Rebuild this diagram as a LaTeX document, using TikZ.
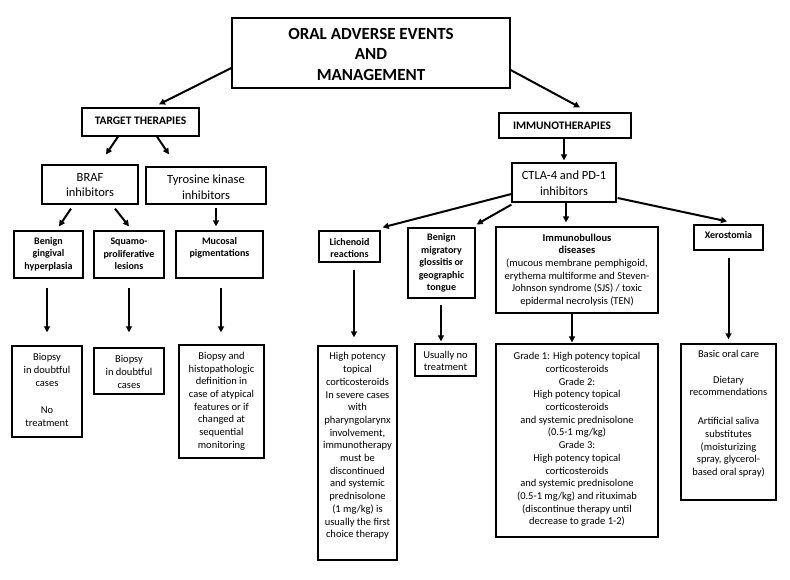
\documentclass[tikz,border=0pt]{standalone}
\usepackage{fontspec}
\setmainfont{Carlito}
\usetikzlibrary{arrows.meta}
\tikzset{
  bx/.style={draw=black, line width=1.3pt, inner sep=0pt, fill=none},
  txt/.style={align=center, inner sep=0pt, font={\fontsize{10.5}{12.7}\selectfont}},
  bld/.style={align=center, inner sep=0pt, font={\bfseries\fontsize{10}{12.5}\selectfont}},
  mid/.style={align=center, inner sep=0pt, font={\fontsize{12.5}{15.8}\selectfont}},
  hdr/.style={align=center, inner sep=0pt, font={\bfseries\fontsize{11.5}{14}\selectfont}},
  ttl/.style={align=center, inner sep=0pt, font={\bfseries\fontsize{17}{20.5}\selectfont}},
  arr/.style={line width=2pt, -{Triangle[length=6pt,width=6pt]}}
}
\begin{document}
\begin{tikzpicture}[x=1pt,y=-1pt]
\useasboundingbox[fill=white] (0,0) rectangle (790,579);
% boxes
\node[bx, minimum width=278, minimum height=70] (title) at (371,53) {};
\node[bx, minimum width=117, minimum height=28] (tt) at (140.5,122) {};
\node[bx, minimum width=132, minimum height=25] (im) at (565,125.5) {};
\node[bx, minimum width=96, minimum height=39] (braf) at (90,184.5) {};
\node[bx, minimum width=120, minimum height=37] (tk) at (206,185.5) {};
\node[bx, minimum width=104, minimum height=39] (ctla) at (564,182.5) {};
\node[bx, minimum width=69, minimum height=47] (bg) at (48.5,254.5) {};
\node[bx, minimum width=70, minimum height=47] (sq) at (129,254.5) {};
\node[bx, minimum width=87, minimum height=47] (mu) at (219.5,254.5) {};
\node[bx, minimum width=70, minimum height=91] (b1) at (47,391.5) {};
\node[bx, minimum width=70, minimum height=46] (b2) at (129,371) {};
\node[bx, minimum width=85, minimum height=113] (b3) at (221.5,401.5) {};
\node[bx, minimum width=61, minimum height=31] (li) at (349.5,246.5) {};
\node[bx, minimum width=67, minimum height=70] (bm) at (441.5,263) {};
\node[bx, minimum width=162, minimum height=86] (ib) at (577,270) {};
\node[bx, minimum width=69, minimum height=25] (xe) at (728.5,237.5) {};
\node[bx, minimum width=79, minimum height=214] (hp) at (357.5,453) {};
\node[bx, minimum width=61, minimum height=32] (un) at (445.5,360) {};
\node[bx, minimum width=162, minimum height=193] (gr) at (577,440.5) {};
\node[bx, minimum width=95, minimum height=156] (bo) at (728.5,422) {};
% texts
\node[ttl] (title-t) at (371,54) {ORAL ADVERSE EVENTS\\AND\\MANAGEMENT};
\node[hdr] (tt-t) at (140.5,121) {TARGET THERAPIES};
\node[hdr] (im-t) at (562,126) {IMMUNOTHERAPIES};
\node[mid] (braf-t) at (90,185) {BRAF\\inhibitors};
\node[mid] (tk-t) at (206,187) {Tyrosine kinase\\inhibitors};
\node[mid] (ctla-t) at (564,183) {CTLA-4 and PD-1\\inhibitors};
\node[bld] (bg-t) at (48.5,254) {Benign\\gingival\\hyperplasia};
\node[bld] (sq-t) at (129,254) {Squamo-\\proliferative\\lesions};
\node[bld] (mu-t) at (219.5,248) {Mucosal\\pigmentations};
\node[txt] (b1-t) at (47,390) {Biopsy\\in doubtful\\cases\\[15pt]No\\treatment};
\node[txt] (b2-t) at (129,372) {Biopsy\\in doubtful\\cases};
\node[txt] (b3-t) at (221.5,401) {Biopsy and\\histopathologic\\definition in\\case of atypical\\features or if\\changed at\\sequential\\monitoring};
\node[bld] (li-t) at (349.5,248) {Lichenoid\\reactions};
\node[bld] (bm-t) at (441.5,263) {Benign\\migratory\\glossitis or\\geographic\\tongue};
\node[txt] (ib-t) at (577,270) {\textbf{Immunobullous}\\\textbf{diseases}\\(mucous membrane pemphigoid,\\erythema multiforme and Steven-\\Johnson syndrome (SJS) / toxic\\epidermal necrolysis (TEN)};
\node[bld] (xe-t) at (728.5,235.5) {Xerostomia};
\node[txt] (hp-t) at (357.5,446) {High potency\\topical\\corticosteroids\\In severe cases\\with\\pharyngolarynx\\involvement,\\immunotherapy\\must be\\discontinued\\and systemic\\prednisolone\\(1 mg/kg) is\\usually the first\\choice therapy};
\node[txt] (un-t) at (445.5,361) {Usually no\\treatment};
\node[txt] (gr-t) at (577,439.5) {Grade 1: High potency topical\\corticosteroids\\Grade 2:\\High potency topical\\corticosteroids\\and systemic prednisolone\\(0.5-1 mg/kg)\\Grade 3:\\High potency topical\\corticosteroids\\and systemic prednisolone\\(0.5-1 mg/kg) and rituximab\\(discontinue therapy until\\decrease to grade 1-2)};
\node[txt] (bo-t) at (728.5,413.5) {Basic oral care\\[13.3pt]Dietary\\recommendations\\[16.3pt]Artificial saliva\\substitutes\\(moisturizing\\spray, glycerol-\\based oral spray)};
% connectors
\draw[arr] ([yshift=-15pt]title.west) -- ([xshift=18.5pt,yshift=3pt]tt.north);
\draw[arr] ([yshift=-17pt]title.east) -- ([xshift=15pt,yshift=5pt]im.north);
\draw[arr] ([xshift=-22.5pt]tt.south) -- ([xshift=16pt,yshift=10pt]braf.north);
\draw[arr] ([xshift=16.5pt]tt.south) -- ([xshift=-37pt,yshift=12pt]tk.north);
\draw[arr] ([xshift=-1pt]im.south) -- ([xshift=0pt,yshift=2pt]ctla.north);
\draw[arr] ([xshift=-19pt,yshift=-4pt]braf.south) -- ([xshift=10.5pt,yshift=4pt]bg.north);
\draw[arr] ([xshift=25pt,yshift=-4pt]braf.south) -- ([yshift=4pt]sq.north);
\draw[arr] ([xshift=10pt,yshift=-3pt]tk.south) -- ([xshift=-3.5pt,yshift=4pt]mu.north);
\draw[arr] ([xshift=-1.5pt,yshift=-9pt]bg.south) -- ([yshift=13pt]b1.north);
\draw[arr] ([yshift=-9pt]sq.south) -- ([yshift=15pt]b2.north);
\draw[arr] ([xshift=1.5pt,yshift=-9pt]mu.south) -- ([xshift=-0.5pt,yshift=12pt]b3.north);
\draw[arr] ([yshift=-11.5pt]ctla.west) -- ([xshift=2pt,yshift=3pt]li.north east);
\draw[arr] ([yshift=-2pt]ctla.south west) -- ([xshift=1pt,yshift=3pt]bm.north east);
\draw[arr] ([xshift=2pt]ctla.south) -- ([xshift=-11pt,yshift=4pt]ib.north);
\draw[arr] ([xshift=1pt,yshift=-15.5pt]ctla.east) -- ([xshift=-1.5pt,yshift=3pt]xe.north);
\draw[arr] ([xshift=4.5pt,yshift=-7pt]li.south) -- ([xshift=-3.5pt,yshift=8pt]hp.north);
\draw[arr] ([xshift=-0.5pt,yshift=-6pt]bm.south) -- ([xshift=-4.5pt,yshift=2pt]un.north);
\draw[arr] ([xshift=-5pt]ib.south) -- ([xshift=-5pt,yshift=1pt]gr.north);
\draw[arr] ([yshift=-7pt]xe.south) -- ([yshift=4pt]bo.north);
\end{tikzpicture}
\end{document}
